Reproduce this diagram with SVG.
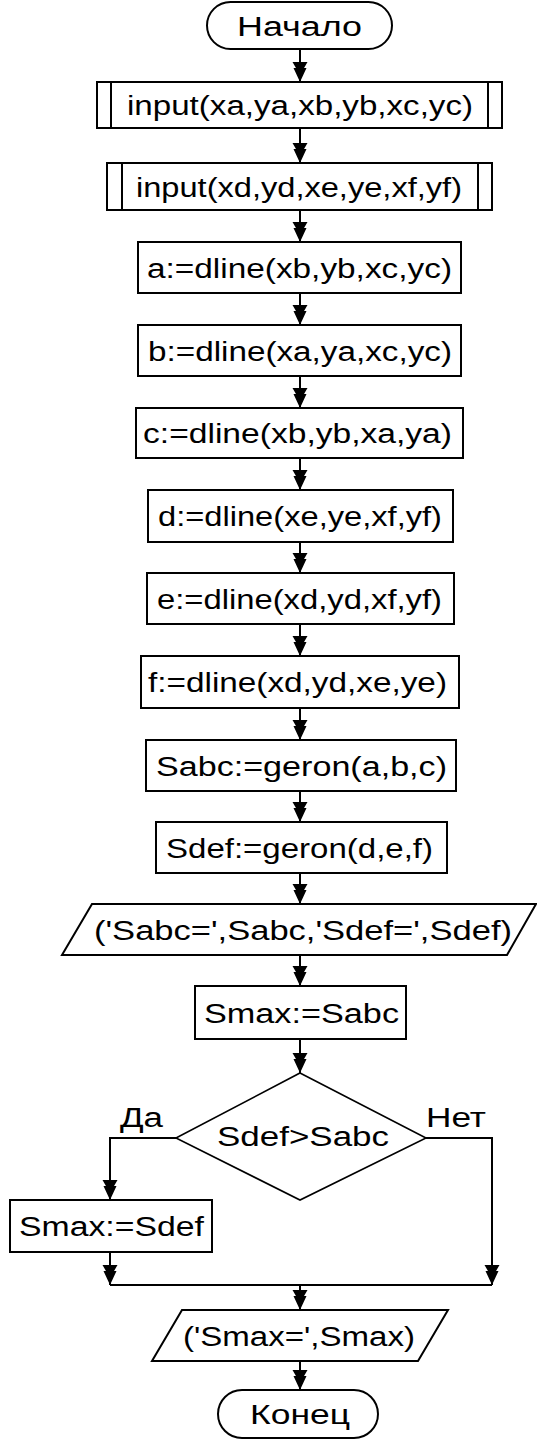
<svg xmlns="http://www.w3.org/2000/svg" width="537" height="1440" viewBox="0 0 537 1440">
<style>
.s{fill:#fff;stroke:#000;stroke-width:2}
.d{fill:#fff;stroke:#000;stroke-width:1.6}
.t{font-family:"Liberation Sans",Arial,sans-serif;font-size:27px;fill:#000;text-anchor:middle}
.c{fill:none;stroke:#000;stroke-width:2}
</style>
<defs>
<marker id="ah" markerUnits="userSpaceOnUse" viewBox="-21 -9 22 18" refX="0" refY="0" markerWidth="22" markerHeight="18" orient="auto">
<path d="M0,0 L-14,-6.5 L-14,6.5 Z M-7,0 L-20,-7.5 L-20,7.5 Z" fill="#000"/>
</marker>
</defs>
<rect width="537" height="1440" fill="#fff"/>
<g id="connectors">
<line class="c" x1="300" y1="49" x2="300" y2="82" marker-end="url(#ah)"/>
<line class="c" x1="300" y1="128" x2="300" y2="163" marker-end="url(#ah)"/>
<line class="c" x1="300" y1="210" x2="300" y2="242" marker-end="url(#ah)"/>
<line class="c" x1="300" y1="293" x2="300" y2="325" marker-end="url(#ah)"/>
<line class="c" x1="300" y1="376" x2="300" y2="408" marker-end="url(#ah)"/>
<line class="c" x1="300" y1="458" x2="300" y2="490" marker-end="url(#ah)"/>
<line class="c" x1="300" y1="542" x2="300" y2="573" marker-end="url(#ah)"/>
<line class="c" x1="300" y1="624" x2="300" y2="656" marker-end="url(#ah)"/>
<line class="c" x1="300" y1="708" x2="300" y2="740" marker-end="url(#ah)"/>
<line class="c" x1="300" y1="791" x2="300" y2="822" marker-end="url(#ah)"/>
<line class="c" x1="300" y1="873" x2="300" y2="904" marker-end="url(#ah)"/>
<line class="c" x1="300" y1="955" x2="300" y2="986" marker-end="url(#ah)"/>
<line class="c" x1="300" y1="1039" x2="300" y2="1073" marker-end="url(#ah)"/>
<polyline class="c" points="176,1138 110,1138 110,1200" marker-end="url(#ah)"/>
<polyline class="c" points="426,1138 492,1138 492,1285" marker-end="url(#ah)"/>
<line class="c" x1="110" y1="1252" x2="110" y2="1285" marker-end="url(#ah)"/>
<line class="c" x1="110" y1="1285" x2="492" y2="1285"/>
<line class="c" x1="300" y1="1285" x2="300" y2="1310" marker-end="url(#ah)"/>
<line class="c" x1="300" y1="1361" x2="300" y2="1390" marker-end="url(#ah)"/>
<text class="t" x="141.5" y="1127" textLength="43" lengthAdjust="spacingAndGlyphs">Да</text>
<text class="t" x="456" y="1127" textLength="60" lengthAdjust="spacingAndGlyphs">Нет</text>
</g>
<g id="start">
<rect class="s" x="207" y="2" width="185" height="47" rx="23.5"/>
<text class="t" x="299.5" y="36" textLength="125" lengthAdjust="spacingAndGlyphs">Начало</text>
</g>
<g id="input1">
<rect class="s" x="97" y="82" width="405" height="46"/>
<line class="c" x1="111" y1="82" x2="111" y2="128"/>
<line class="c" x1="488" y1="82" x2="488" y2="128"/>
<text class="t" x="300" y="115" textLength="346" lengthAdjust="spacingAndGlyphs">input(xa,ya,xb,yb,xc,yc)</text>
</g>
<g id="input2">
<rect class="s" x="107" y="163" width="385" height="47"/>
<line class="c" x1="122" y1="163" x2="122" y2="210"/>
<line class="c" x1="478" y1="163" x2="478" y2="210"/>
<text class="t" x="299" y="196.5" textLength="326" lengthAdjust="spacingAndGlyphs">input(xd,yd,xe,ye,xf,yf)</text>
</g>
<g id="a">
<rect class="s" x="138" y="242" width="323" height="51"/>
<text class="t" x="299.5" y="277.5" textLength="305" lengthAdjust="spacingAndGlyphs">a:=dline(xb,yb,xc,yc)</text>
</g>
<g id="b">
<rect class="s" x="138" y="325" width="323" height="51"/>
<text class="t" x="300" y="360.5" textLength="304" lengthAdjust="spacingAndGlyphs">b:=dline(xa,ya,xc,yc)</text>
</g>
<g id="c">
<rect class="s" x="136" y="408" width="327" height="50"/>
<text class="t" x="297.5" y="443" textLength="309" lengthAdjust="spacingAndGlyphs">c:=dline(xb,yb,xa,ya)</text>
</g>
<g id="d">
<rect class="s" x="148" y="490" width="305" height="52"/>
<text class="t" x="300" y="526" textLength="284" lengthAdjust="spacingAndGlyphs">d:=dline(xe,ye,xf,yf)</text>
</g>
<g id="e">
<rect class="s" x="147" y="573" width="307" height="51"/>
<text class="t" x="299.5" y="608.5" textLength="285" lengthAdjust="spacingAndGlyphs">e:=dline(xd,yd,xf,yf)</text>
</g>
<g id="f">
<rect class="s" x="141" y="656" width="318" height="52"/>
<text class="t" x="297.5" y="692" textLength="299" lengthAdjust="spacingAndGlyphs">f:=dline(xd,yd,xe,ye)</text>
</g>
<g id="sabc">
<rect class="s" x="146" y="740" width="310" height="51"/>
<text class="t" x="301.5" y="775.5" textLength="291" lengthAdjust="spacingAndGlyphs">Sabc:=geron(a,b,c)</text>
</g>
<g id="sdef">
<rect class="s" x="156" y="822" width="291" height="51"/>
<text class="t" x="299.5" y="857.5" textLength="267" lengthAdjust="spacingAndGlyphs">Sdef:=geron(d,e,f)</text>
</g>
<g id="output1">
<polygon class="s" points="92,904 536,904 507,955 62,955"/>
<text class="t" x="303" y="939.5" textLength="418" lengthAdjust="spacingAndGlyphs">('Sabc=',Sabc,'Sdef=',Sdef)</text>
</g>
<g id="smax1">
<rect class="s" x="195" y="986" width="211" height="53"/>
<text class="t" x="301.5" y="1022.5" textLength="195" lengthAdjust="spacingAndGlyphs">Smax:=Sabc</text>
</g>
<g id="decision">
<polygon class="d" points="300,1073 426,1138 300,1200 176,1138"/>
<text class="t" x="303" y="1146" textLength="172" lengthAdjust="spacingAndGlyphs">Sdef&gt;Sabc</text>
</g>
<g id="smax2">
<rect class="s" x="10" y="1200" width="202" height="52"/>
<text class="t" x="111.5" y="1236" textLength="185" lengthAdjust="spacingAndGlyphs">Smax:=Sdef</text>
</g>
<g id="output2">
<polygon class="s" points="182,1310 448,1310 418,1361 152,1361"/>
<text class="t" x="299" y="1345.5" textLength="232" lengthAdjust="spacingAndGlyphs">('Smax=',Smax)</text>
</g>
<g id="end">
<rect class="s" x="218" y="1390" width="160" height="48" rx="24"/>
<text class="t" x="300" y="1424" textLength="100" lengthAdjust="spacingAndGlyphs">Конец</text>
</g>
</svg>
